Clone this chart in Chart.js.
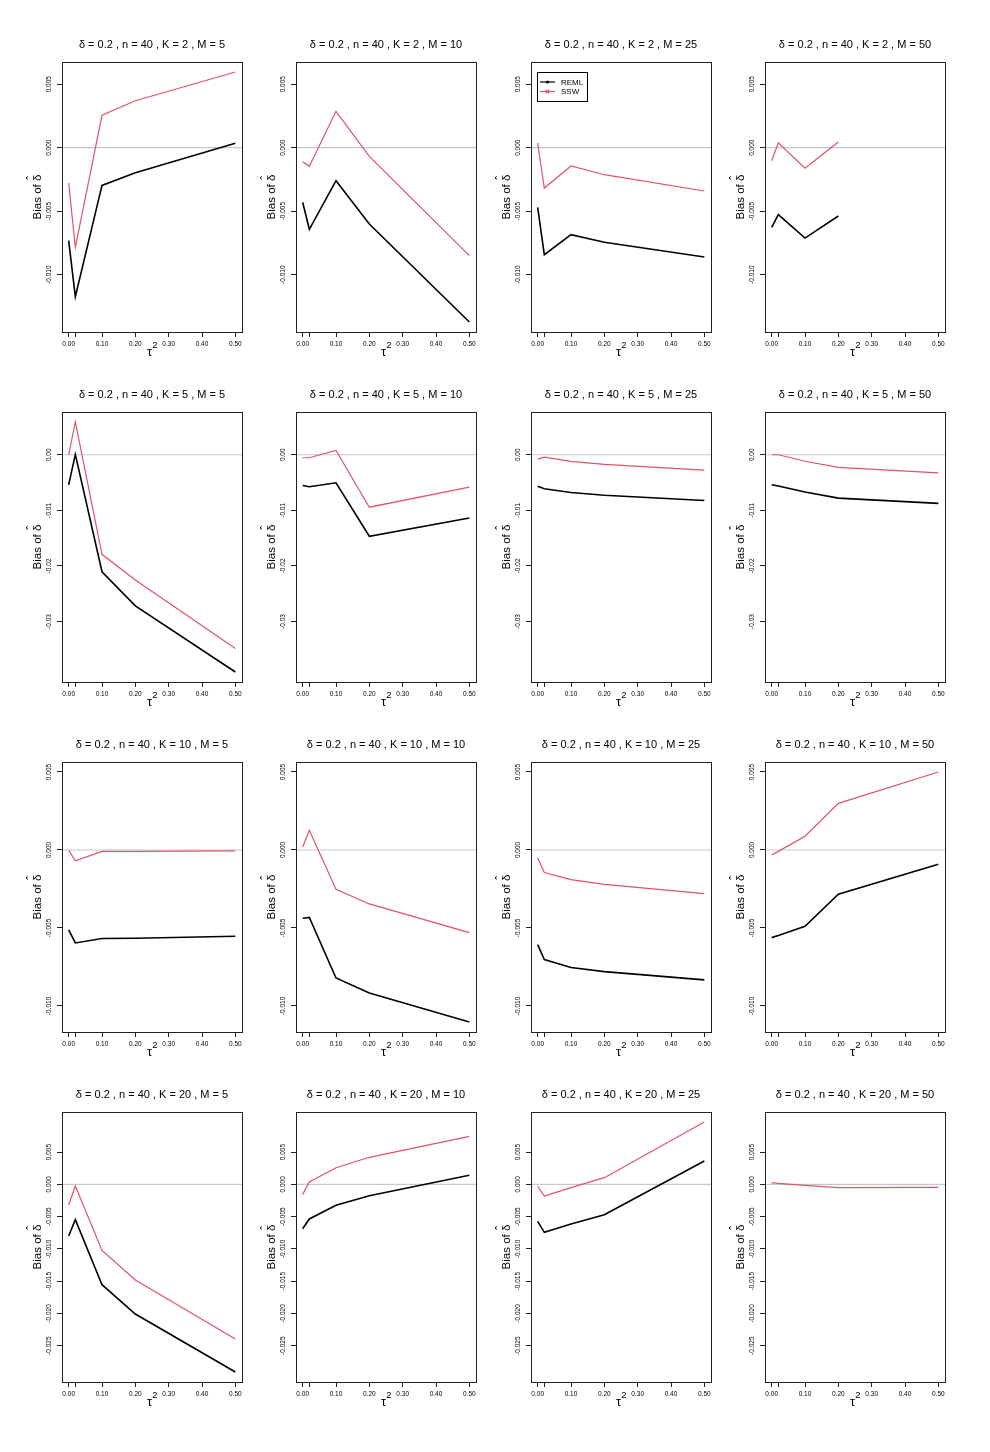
<!DOCTYPE html>
<html>
<head>
<meta charset="utf-8">
<script src="https://cdn.jsdelivr.net/npm/chart.js@4.4.1/dist/chart.umd.min.js"></script>
<style>
  html, body { margin: 0; padding: 0; background: #fff; }
  #grid { position: relative; width: 990px; height: 1452px; overflow: hidden; }
  .panel { position: absolute; }
</style>
</head>
<body>
<div id="grid"></div>
<script>
const DELTA = 0.2;
const N = 40;
const K_VALUES = [2, 5, 10, 20];
const M_VALUES = [5, 10, 25, 50];
const TAU2 = [0, 0.02, 0.1, 0.2, 0.5];
const TAU2_TICKS = [0, 0.02, 0.1, 0.2, 0.3, 0.4, 0.5];

// bias of delta-hat, one line per M (5, 10, 25, 50), values at TAU2
const REML_K2 = [
  [-0.00732, -0.01173, -0.00297, -0.00197, 0.00034],
  [-0.0043, -0.00643, -0.0026, -0.00601, -0.01373],
  [-0.0047, -0.00843, -0.00685, -0.00745, -0.00861],
  [-0.00627, -0.00527, -0.00712, -0.00538, null],
];
const SSW_K2 = [
  [-0.00278, -0.00785, 0.00255, 0.0037, 0.00596],
  [-0.0011, -0.00147, 0.00286, -0.00068, -0.0085],
  [0.00037, -0.00318, -0.00144, -0.00213, -0.00341],
  [-0.00103, 0.00038, -0.00161, 0.00045, null],
];
const REML_K5 = [
  [-0.00541, 0.00006, -0.02105, -0.02718, -0.03909],
  [-0.00553, -0.00577, -0.00505, -0.01467, -0.01137],
  [-0.00565, -0.00613, -0.0068, -0.00728, -0.00824],
  [-0.00539, -0.00563, -0.00672, -0.00781, -0.00875],
];
const SSW_K5 = [
  [0.0, 0.00589, -0.01792, -0.02255, -0.03488],
  [-0.00054, -0.00054, 0.00078, -0.00944, -0.00583],
  [-0.00078, -0.00042, -0.0012, -0.00174, -0.00277],
  [0.0, 0.0, -0.00117, -0.00227, -0.00328],
];
const REML_K10 = [
  [-0.00513, -0.00596, -0.00568, -0.00566, -0.00553],
  [-0.00438, -0.00432, -0.00821, -0.00917, -0.01103],
  [-0.00607, -0.00703, -0.00754, -0.0078, -0.00833],
  [-0.00562, -0.00549, -0.00489, -0.00284, -0.00092],
];
const SSW_K10 = [
  [-0.00002, -0.0007, -0.00009, -0.00009, -0.00006],
  [0.00019, 0.00126, -0.00252, -0.00346, -0.0053],
  [-0.00051, -0.00145, -0.0019, -0.0022, -0.0028],
  [-0.00032, -0.00009, 0.00088, 0.00299, 0.005],
];
const REML_K20 = [
  [-0.008, -0.00548, -0.01555, -0.02009, -0.02908],
  [-0.00687, -0.00537, -0.00325, -0.00176, 0.0014],
  [-0.00573, -0.00744, -0.00615, -0.0047, 0.00362],
  [null, null, null, null, null],
];
const SSW_K20 = [
  [-0.0032, -0.00026, -0.01023, -0.01482, -0.02397],
  [-0.00155, 0.00036, 0.00258, 0.00419, 0.00744],
  [-0.00031, -0.00181, -0.00052, 0.00103, 0.00966],
  [0.00026, 0.00015, -0.00015, -0.00052, -0.00046],
];

const Y_TICKS_K2 = ['0.005', '0.000', '-0.005', '-0.010'];
const Y_TICKS_K5 = ['0.00', '-0.01', '-0.02', '-0.03'];
const Y_TICKS_K10 = ['0.005', '0.000', '-0.005', '-0.010'];
const Y_TICKS_K20 = ['0.005', '0.000', '-0.005', '-0.010', '-0.015', '-0.020', '-0.025'];

const REML_BY_K = [REML_K2, REML_K5, REML_K10, REML_K20];
const SSW_BY_K = [SSW_K2, SSW_K5, SSW_K10, SSW_K20];
const Y_TICKS_BY_K = [Y_TICKS_K2, Y_TICKS_K5, Y_TICKS_K10, Y_TICKS_K20];

const FONT = '"Liberation Sans", Arial, Helvetica, sans-serif';
const BLACK = '#000000';
const RED = '#DF536B';

// R style: ylim is the range of the row, axis padded by 4%
function rowRange(r) {
  const all = REML_BY_K[r].flat().concat(SSW_BY_K[r].flat()).filter((v) => v !== null);
  const lo = Math.min(...all);
  const hi = Math.max(...all);
  const pad = (hi - lo) * 0.04;
  return [lo - pad, hi + pad];
}

const framePlugin = {
  id: 'frame',
  beforeDatasetsDraw(chart) {
    const { ctx, chartArea: a } = chart;
    const y0 = chart.scales.y.getPixelForValue(0);
    ctx.save();
    ctx.strokeStyle = '#c8c8c8';
    ctx.lineWidth = 1.2;
    ctx.beginPath();
    ctx.moveTo(a.left, y0);
    ctx.lineTo(a.right, y0);
    ctx.stroke();
    ctx.restore();
  },
  afterDraw(chart, args, opts) {
    const { ctx, chartArea: a } = chart;
    const ys = chart.scales.y;
    ctx.save();
    ctx.strokeStyle = '#222';
    ctx.lineWidth = 1;
    ctx.strokeRect(Math.round(a.left) + 0.5, Math.round(a.top) + 0.5,
      Math.round(a.right - a.left), Math.round(a.bottom - a.top));

    // title
    const cx = (a.left + a.right) / 2;
    ctx.fillStyle = '#000';
    ctx.font = '11px ' + FONT;
    ctx.textAlign = 'center';
    ctx.textBaseline = 'alphabetic';
    ctx.fillText(opts.title, cx, a.top - 14);

    // rotated y tick labels
    ctx.font = '6.5px ' + FONT;
    ctx.textBaseline = 'middle';
    opts.yLabels.forEach((lab) => {
      const py = ys.getPixelForValue(parseFloat(lab));
      ctx.save();
      ctx.translate(a.left - 12.5, py);
      ctx.rotate(-Math.PI / 2);
      ctx.fillText(lab, 0, 0);
      ctx.restore();
    });

    // y axis title: Bias of delta-hat
    const cy = (a.top + a.bottom) / 2;
    ctx.save();
    ctx.translate(a.left - 25, cy);
    ctx.rotate(-Math.PI / 2);
    ctx.font = '11.5px ' + FONT;
    const txt = 'Bias of δ';
    const w = ctx.measureText(txt).width;
    const wd = ctx.measureText('δ').width;
    ctx.textAlign = 'left';
    ctx.textBaseline = 'alphabetic';
    ctx.fillText(txt, -w / 2, 4);
    ctx.font = '12px ' + FONT;
    ctx.textAlign = 'center';
    ctx.fillText('\u02C6', w / 2 - wd / 2, -1);
    ctx.restore();

    // x axis title: tau^2
    ctx.textAlign = 'left';
    ctx.textBaseline = 'alphabetic';
    ctx.font = '13px ' + FONT;
    ctx.fillText('τ', cx - 5, a.bottom + 24);
    const tw = ctx.measureText('τ').width;
    ctx.font = '9.5px ' + FONT;
    ctx.fillText('2', cx - 5 + tw, a.bottom + 15.5);

    // legend box
    if (opts.legend) {
      const lx = a.left + 6, ly = a.top + 10;
      ctx.strokeStyle = '#000';
      ctx.lineWidth = 1;
      ctx.strokeRect(Math.round(lx) + 0.5, Math.round(ly) + 0.5, 50, 29);
      ctx.font = '8px ' + FONT;
      ctx.textBaseline = 'middle';
      const rows = [['REML', BLACK, 'dot', ly + 10], ['SSW', RED, 'cross', ly + 19.5]];
      rows.forEach(([name, col, mark, yy]) => {
        ctx.strokeStyle = col;
        ctx.lineWidth = 1.2;
        ctx.beginPath();
        ctx.moveTo(lx + 3, yy);
        ctx.lineTo(lx + 18, yy);
        ctx.stroke();
        const mx = lx + 10.5;
        if (mark === 'dot') {
          ctx.fillStyle = col;
          ctx.beginPath();
          ctx.arc(mx, yy, 1.6, 0, Math.PI * 2);
          ctx.fill();
        } else {
          ctx.beginPath();
          ctx.moveTo(mx - 1.8, yy - 1.8); ctx.lineTo(mx + 1.8, yy + 1.8);
          ctx.moveTo(mx - 1.8, yy + 1.8); ctx.lineTo(mx + 1.8, yy - 1.8);
          ctx.stroke();
        }
        ctx.fillStyle = '#000';
        ctx.fillText(name, lx + 24, yy + 0.5);
      });
    }
    ctx.restore();
  },
};

function series(vals) {
  return TAU2.map((t, i) => ({ x: t, y: vals[i] }));
}

function makePanel(r, c) {
  const boxLeft = Math.round(62 + 234.33 * c);
  const boxTop = 62 + 350 * r;
  const wrap = document.createElement('div');
  wrap.className = 'panel';
  wrap.style.left = (boxLeft - 58) + 'px';
  wrap.style.top = (boxTop - 40) + 'px';
  const canvas = document.createElement('canvas');
  canvas.width = 246;
  canvas.height = 340;
  wrap.appendChild(canvas);
  document.getElementById('grid').appendChild(wrap);

  const [ymin, ymax] = rowRange(r);
  const yLabels = Y_TICKS_BY_K[r];

  new Chart(canvas.getContext('2d'), {
    type: 'line',
    data: {
      datasets: [
        {
          label: 'REML',
          data: series(REML_BY_K[r][c]),
          borderColor: BLACK,
          borderWidth: 1.6,
          pointRadius: 0,
          tension: 0,
          spanGaps: false,
        },
        {
          label: 'SSW',
          data: series(SSW_BY_K[r][c]),
          borderColor: RED,
          borderWidth: 1.2,
          pointRadius: 0,
          tension: 0,
          spanGaps: false,
        },
      ],
    },
    options: {
      responsive: false,
      devicePixelRatio: 1,
      animation: false,
      layout: { padding: { top: 40, right: 8, left: 0, bottom: 0 } },
      plugins: {
        legend: { display: false },
        tooltip: { enabled: false },
        frame: {
          title: `δ = ${DELTA} , n = ${N} , K = ${K_VALUES[r]} , M = ${M_VALUES[c]}`,
          yLabels,
          legend: r === 0 && c === 2,
        },
      },
      scales: {
        x: {
          type: 'linear',
          min: -0.02,
          max: 0.52,
          afterBuildTicks: (s) => { s.ticks = TAU2_TICKS.map((v) => ({ value: v })); },
          afterFit: (s) => { s.height = 30; },
          grid: { drawOnChartArea: false, drawTicks: true, tickLength: 5, color: '#222' },
          border: { display: false },
          ticks: {
            autoSkip: false,
            maxRotation: 0,
            padding: 3,
            color: '#000',
            font: { size: 6.5, family: FONT },
            callback: (v) => (v === 0.02 ? '' : v.toFixed(2)),
          },
        },
        y: {
          type: 'linear',
          min: ymin,
          max: ymax,
          afterBuildTicks: (s) => { s.ticks = yLabels.map((l) => ({ value: parseFloat(l) })); },
          afterFit: (s) => { s.width = 58; },
          grid: { drawOnChartArea: false, drawTicks: true, tickLength: 5, color: '#222' },
          border: { display: false },
          ticks: { display: false },
        },
      },
    },
    plugins: [framePlugin],
  });
}

for (let r = 0; r < 4; r++) {
  for (let c = 0; c < 4; c++) makePanel(r, c);
}
</script>
</body>
</html>
